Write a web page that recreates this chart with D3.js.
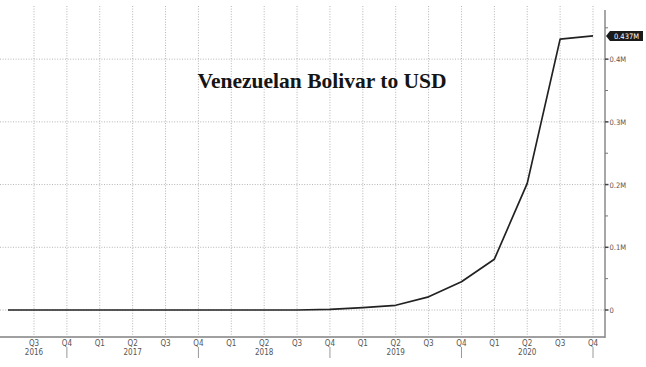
<!DOCTYPE html>
<html>
<head>
<meta charset="utf-8">
<script src="https://cdn.jsdelivr.net/npm/d3@7"></script>
<style>
  body { margin: 0; background: #fff; }
  svg { display: block; }
  .qlabel, .ylabel-txt, .yr { font-family: "DejaVu Sans Condensed", "DejaVu Sans", sans-serif; }
</style>
</head>
<body>
<svg id="chart"></svg>
<script>
const WIDTH = 646
const HEIGHT = 367
const SVG = d3.select('#chart').attr('width', WIDTH).attr('height', HEIGHT)

// quarter index 0 = Q3 2016 ... 17 = Q4 2020
const quarterLabels = ['Q3','Q4','Q1','Q2','Q3','Q4','Q1','Q2','Q3','Q4','Q1','Q2','Q3','Q4','Q1','Q2','Q3','Q4']
const yearLabels = ['2016','2017','2018','2019','2020']
const yearAt = [0, 3, 7, 11, 15]
const yearBreaks = [1, 5, 9, 13, 17]   // long ticks under Q4

// VES per USD, millions; first point is Q2 2016 (index -1)
const dataIdx = [-1,0,1,2,3,4,5,6,7,8,9,10,11,12,13,14,15,16,17]
const dataVal = [0,0,0,0,0,0,0,0,0,0,0.001,0.0037,0.0075,0.021,0.045,0.081,0.202,0.432,0.437]
const lastLabel = '0.437M'

const yTicks = [0, 0.1, 0.2, 0.3, 0.4]
const yMinor = [0.05, 0.15, 0.25, 0.35, 0.45]

const AXIS_X = 605
const AXIS_Y = 337

let xScale = d3.scaleLinear().domain([0, 17]).range([34, 593])
let yScale = d3.scaleLinear().domain([0, 0.45]).range([310, 27.8])

// grid
SVG.append('g').selectAll('line').data(quarterLabels).enter().append('line')
  .attr('x1', (d, i) => xScale(i)).attr('x2', (d, i) => xScale(i))
  .attr('y1', 6).attr('y2', AXIS_Y)
  .attr('stroke', '#b4b4b4').attr('stroke-width', 1).attr('stroke-dasharray', '1,1.6')

SVG.append('g').selectAll('line').data(yTicks).enter().append('line')
  .attr('x1', 0).attr('x2', AXIS_X)
  .attr('y1', d => yScale(d)).attr('y2', d => yScale(d))
  .attr('stroke', '#b4b4b4').attr('stroke-width', 1).attr('stroke-dasharray', '1,1.6')

// title
SVG.append('text')
  .attr('x', 322).attr('y', 88)
  .attr('text-anchor', 'middle')
  .style('font-family', '"Liberation Serif", "DejaVu Serif", serif')
  .style('font-weight', 'bold').style('font-size', '21.5px')
  .attr('fill', '#151515')
  .text('Venezuelan Bolivar to USD')

// the line
SVG.append('clipPath').attr('id', 'clip').append('rect')
  .attr('x', 8).attr('y', 0).attr('width', AXIS_X - 8).attr('height', AXIS_Y)

let line = d3.line().x((d, i) => xScale(dataIdx[i])).y(d => yScale(d))
SVG.append('path')
  .datum(dataVal)
  .attr('clip-path', 'url(#clip)')
  .attr('d', line)
  .attr('fill', 'none').attr('stroke', '#222').attr('stroke-width', 1.7)
  .attr('stroke-linejoin', 'round')

// bottom axis
SVG.append('line').attr('x1', 0).attr('x2', AXIS_X).attr('y1', AXIS_Y).attr('y2', AXIS_Y)
  .attr('stroke', '#a0a0a0').attr('stroke-width', 2)

SVG.append('g').selectAll('text').data(quarterLabels).enter().append('text')
  .attr('class', 'qlabel')
  .attr('x', (d, i) => xScale(i)).attr('y', 345.5)
  .attr('text-anchor', 'middle')
  .style('font-size', '8px').attr('fill', '#555')
  .text(d => d)

SVG.append('g').selectAll('text').data(yearLabels).enter().append('text')
  .attr('class', 'yr')
  .attr('x', (d, i) => xScale(yearAt[i])).attr('y', 355)
  .attr('text-anchor', 'middle')
  .style('font-size', '8px').attr('fill', '#555')
  .text(d => d)

SVG.append('g').selectAll('line').data(yearBreaks).enter().append('line')
  .attr('x1', d => xScale(d)).attr('x2', d => xScale(d))
  .attr('y1', 347).attr('y2', 358)
  .attr('stroke', '#999').attr('stroke-width', 1)

// right axis
SVG.append('line').attr('x1', AXIS_X).attr('x2', AXIS_X).attr('y1', 10).attr('y2', AXIS_Y + 1)
  .attr('stroke', '#8a8a8a').attr('stroke-width', 1.5)

SVG.append('g').selectAll('line').data(yMinor).enter().append('line')
  .attr('x1', AXIS_X).attr('x2', AXIS_X + 3)
  .attr('y1', d => yScale(d)).attr('y2', d => yScale(d))
  .attr('stroke', '#777').attr('stroke-width', 1)

let yAxis = SVG.append('g').selectAll('g').data(yTicks).enter().append('g')
  .attr('transform', d => 'translate(' + AXIS_X + ',' + yScale(d) + ')')
yAxis.append('line').attr('x1', 0).attr('x2', 3.5).attr('stroke', '#444').attr('stroke-width', 1.5)
yAxis.append('text')
  .attr('class', 'ylabel-txt')
  .attr('x', 4.5).attr('y', 3)
  .style('font-size', '7.5px').attr('fill', '#555')
  .text(d => d === 0 ? '0' : d3.format('.1f')(d) + 'M')

// last value tag
let lastY = yScale(dataVal[dataVal.length - 1])
let tag = SVG.append('g').attr('transform', 'translate(' + AXIS_X + ',' + lastY + ')')
tag.append('path')
  .attr('d', 'M1,0 L5,-5 L38,-5 L38,5 L5,5 Z')
  .attr('fill', '#1a1a1a')
tag.append('text')
  .attr('class', 'ylabel-txt')
  .attr('x', 21.5).attr('y', 2.7)
  .attr('text-anchor', 'middle')
  .style('font-size', '7.5px').attr('fill', '#fff')
  .text(lastLabel)
</script>
</body>
</html>
